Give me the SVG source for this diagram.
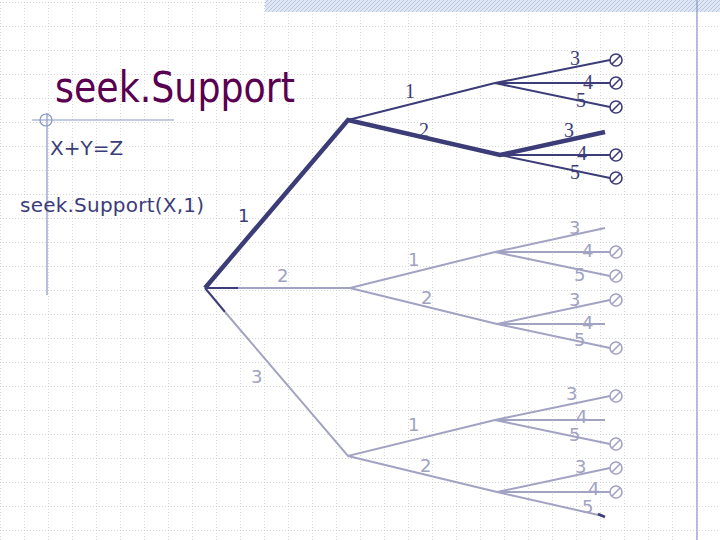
<svg xmlns="http://www.w3.org/2000/svg" width="720" height="540" viewBox="0 0 720 540">
<defs>
<pattern id="grid" width="24" height="24" patternUnits="userSpaceOnUse" x="0" y="2">
<path d="M0 0.5H24M0.5 0V24" stroke="#d8d8d8" stroke-width="1" stroke-dasharray="1 2" fill="none"/>
</pattern>
<pattern id="hatch" width="4" height="4" patternUnits="userSpaceOnUse">
<rect width="4" height="4" fill="#dfe6f4"/><path d="M0 4L4 0" stroke="#b8c4e0" stroke-width="1"/>
</pattern>
<g id="x"><circle r="6" fill="#fff" stroke="currentColor" stroke-width="1.6"/><path d="M-4 4L4 -4" stroke="currentColor" stroke-width="1.6"/></g>
</defs>
<style>
.d{stroke:#3c3c78;fill:none;stroke-width:2}
.D{stroke:#3c3c78;fill:none;stroke-width:4.5}
.g{stroke:#a2a2c2;fill:none;stroke-width:2}
.td{font-family:"Liberation Serif",serif;font-size:20px;fill:#3c3c78}
.tg{font-family:"DejaVu Sans",sans-serif;font-size:18px;fill:#a2a2c2}
.cd{color:#3c3c78}
.cg{color:#a2a2c2}
</style>
<rect width="720" height="540" fill="#fff"/>
<rect width="720" height="540" fill="url(#grid)"/>
<rect x="265" y="0" width="455" height="12" fill="url(#hatch)"/>
<line x1="697" y1="0" x2="697" y2="540" stroke="#8896c8" stroke-width="1.2"/>
<g id="deco" stroke="#8896c8" stroke-width="1.2" fill="none">
<line x1="32" y1="120" x2="174" y2="120"/><line x1="47" y1="113" x2="47" y2="295"/><circle cx="46" cy="120" r="6"/>
</g>
<g id="title"><text x="55" y="102" font-family="'DejaVu Sans',sans-serif" font-size="42" fill="#5a0050" textLength="240" lengthAdjust="spacingAndGlyphs">seek.Support</text></g>
<g id="eq"><text x="50" y="155" font-family="'DejaVu Sans',sans-serif" font-size="20" fill="#3c3c78">X+Y=Z</text></g>
<g id="call"><text x="20" y="212" font-family="'DejaVu Sans',sans-serif" font-size="20" fill="#3c3c78" textLength="184">seek.Support(X,1)</text></g>
<g id="connectors">
<path class="D" d="M205 288L348 120L500 155L605 132"/>
<path class="d" d="M348 120L495 83M495 83L610 60M495 83L610 83M495 83L610 107M500 155L610 155M500 155L610 178"/>
<path class="d" d="M205 288L238 288M205 288L225 312"/>
<path class="g" d="M238 288L350 288L495 252M350 288L497 324M495 252L605 228M495 252L610 252M495 252L610 276M497 324L610 300M497 324L605 324M497 324L610 348"/>
<path class="g" d="M225 312L348 456L495 420M348 456L497 492M495 420L610 396M495 420L605 420M495 420L610 444M497 492L610 468M497 492L610 492M497 492L603 516"/>
<path d="M598 514L605 517" stroke="#3c3c78" stroke-width="2.5"/>
</g>
<g id="ends-top" class="cd">
<use href="#x" x="616" y="60"/><use href="#x" x="616" y="83"/><use href="#x" x="616" y="107"/><use href="#x" x="616" y="155"/><use href="#x" x="616" y="178"/>
</g>
<g id="ends-gray" class="cg">
<use href="#x" x="616" y="252"/><use href="#x" x="616" y="276"/><use href="#x" x="616" y="300"/><use href="#x" x="616" y="348"/>
<use href="#x" x="616" y="396"/><use href="#x" x="616" y="444"/><use href="#x" x="616" y="468"/><use href="#x" x="616" y="492"/>
</g>
<g id="labels-top">
<text class="td" x="405" y="98">1</text><text class="td" x="419" y="137">2</text>
<text class="td" x="570" y="65">3</text><text class="td" x="583" y="89">4</text><text class="td" x="576" y="107">5</text>
<text class="td" x="564" y="137">3</text><text class="td" x="577" y="160">4</text><text class="td" x="570" y="179">5</text>
</g>
<g id="labels-gray">
<text class="tg" x="238" y="222" style="fill:#3c3c78">1</text><text class="tg" x="277" y="282">2</text><text class="tg" x="251" y="383">3</text>
<text class="tg" x="408" y="266">1</text><text class="tg" x="421" y="304">2</text>
<text class="tg" x="569" y="234">3</text><text class="tg" x="582" y="257">4</text><text class="tg" x="574" y="281">5</text>
<text class="tg" x="569" y="306">3</text><text class="tg" x="582" y="329">4</text><text class="tg" x="574" y="346">5</text>
<text class="tg" x="408" y="431">1</text><text class="tg" x="420" y="472">2</text>
<text class="tg" x="566" y="400">3</text><text class="tg" x="576" y="423">4</text><text class="tg" x="569" y="441">5</text>
<text class="tg" x="575" y="473">3</text><text class="tg" x="588" y="495">4</text><text class="tg" x="582" y="513">5</text>
</g>
</svg>
